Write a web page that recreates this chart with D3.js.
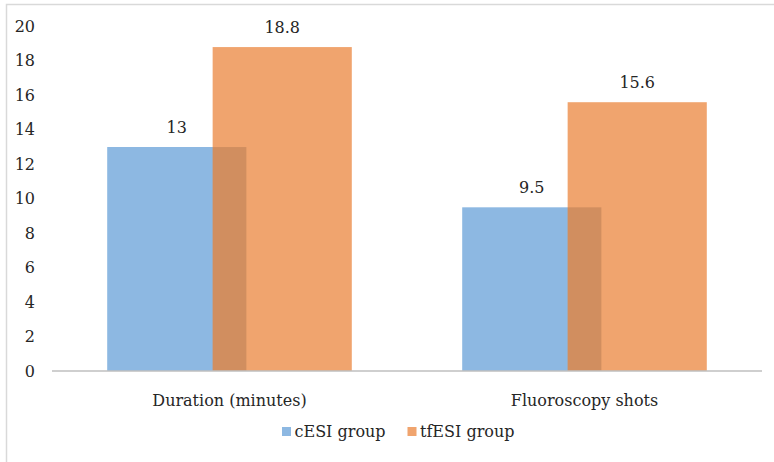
<!DOCTYPE html>
<html><head><meta charset="utf-8">
<script src="https://cdn.jsdelivr.net/npm/d3@7"></script>
<style>body{margin:0;background:#fff}svg{display:block}</style>
</head><body><svg id="c" width="774" height="462"></svg>
<script>
const categories = ["Duration (minutes)", "Fluoroscopy shots"];
const seriesNames = ["cESI group", "tfESI group"];
const cESI = [13, 9.5];
const tfESI = [18.8, 15.6];
const yTicks = [0, 2, 4, 6, 8, 10, 12, 14, 16, 18, 20];
const colors = ["#8db8e2", "#f0a46e"];

const svg = d3.select("#c");
svg.append("rect").attr("x", 6.5).attr("y", 4.5).attr("width", 900).attr("height", 600)
  .attr("fill", "none").attr("stroke", "#d9d9d9").attr("stroke-width", 1.5);

const x = d3.scaleBand().domain(categories).range([52, 762]);
const y = d3.scaleLinear().domain([0, 20]).range([371, 26.4]);
const bw = x.bandwidth() * 0.392;
const off = x.bandwidth() * 0.297;
const series = [cESI, tfESI];
const bx = (c, s) => x(c) + x.bandwidth() / 2 - (bw + off) / 2 + s * off;
const txt = sel => sel.style("font-family", "'DejaVu Serif', serif").attr("fill", "#262626").attr("font-size", 16);

// y tick labels
svg.append("g").selectAll("text").data(yTicks).join("text")
  .attr("x", 35).attr("y", d => y(d)).attr("dy", "0.35em")
  .attr("text-anchor", "end").call(txt).text(d => d);

// bars
series.forEach((vals, s) => {
  svg.append("g").selectAll("rect").data(categories).join("rect")
    .attr("x", c => bx(c, s)).attr("width", bw)
    .attr("y", (c, i) => y(vals[i])).attr("height", (c, i) => y(0) - y(vals[i]))
    .attr("fill", colors[s]);
});
// overlap darkening
svg.append("g").selectAll("rect").data(categories).join("rect")
  .attr("x", c => bx(c, 1)).attr("width", c => bx(c, 0) + bw - bx(c, 1))
  .attr("y", (c, i) => y(Math.min(cESI[i], tfESI[i])))
  .attr("height", (c, i) => y(0) - y(Math.min(cESI[i], tfESI[i])))
  .attr("fill", "#000").attr("opacity", 0.13);

// value labels
series.forEach((vals, s) => {
  svg.append("g").selectAll("text").data(categories).join("text")
    .attr("x", c => bx(c, s) + bw / 2).attr("y", (c, i) => y(vals[i]) - 14)
    .attr("text-anchor", "middle").call(txt).text((c, i) => vals[i]);
});

// axis line
svg.append("line").attr("x1", 52).attr("x2", 762).attr("y1", y(0)).attr("y2", y(0))
  .attr("stroke", "#bfbfbf").attr("stroke-width", 1.5);

// category labels
svg.append("g").selectAll("text").data(categories).join("text")
  .attr("x", c => x(c) + x.bandwidth() / 2).attr("y", 406)
  .attr("text-anchor", "middle").call(txt).text(c => c);

// legend
const lx = [282, 407.5];
const lg = svg.append("g").selectAll("g").data(seriesNames).join("g")
  .attr("transform", (d, i) => `translate(${lx[i]},0)`);
lg.append("rect").attr("x", 0).attr("y", 427).attr("width", 9).attr("height", 9)
  .attr("fill", (d, i) => colors[i]);
lg.append("text").attr("x", 12.5).attr("y", 437).call(txt).text(d => d);
</script></body></html>
